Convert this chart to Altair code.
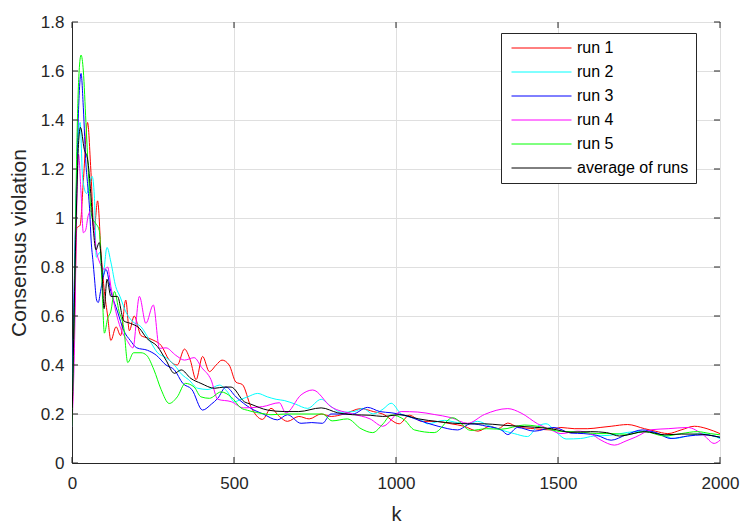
import altair as alt
import pandas as pd

FONT = "Liberation Sans"
AX = "#262626"

series_names = ["run 1", "run 2", "run 3", "run 4", "run 5", "average of runs"]
series_colors = ["#ff0000", "#00ffff", "#0000ff", "#ff00ff", "#00ff00", "#000000"]
x_ticks = [0, 500, 1000, 1500, 2000]
y_ticks = [0, 0.2, 0.4, 0.6, 0.8, 1.0, 1.2, 1.4, 1.6, 1.8]

run1 = [(0,0.15),(8,0.6),(15,0.96),(25,0.97),(35,1.15),(48,1.39),(58,1.2),(68,0.95),(79,1.07),(90,0.85),
        (100,0.70),(110,0.60),(120,0.50),(136,0.556),(150,0.52),(166,0.665),(177,0.54),(192,0.60),(213,0.52),
        (235,0.51),(253,0.50),(275,0.48),(300,0.42),(325,0.40),(347,0.465),(365,0.42),(383,0.34),(403,0.435),
        (424,0.373),(445,0.40),(463,0.42),(485,0.40),(506,0.33),(526,0.32),(552,0.23),(588,0.178),(614,0.223),
        (640,0.19),(665,0.17),(700,0.19),(732,0.18),(769,0.20),(800,0.19),(840,0.20),(892,0.222),(930,0.21),
        (959,0.20),(1010,0.16),(1041,0.195),(1080,0.17),(1120,0.17),(1170,0.16),(1210,0.15),(1253,0.13),
        (1290,0.15),(1315,0.14),(1345,0.163),(1375,0.147),(1427,0.14),(1478,0.135),(1509,0.145),(1550,0.14),
        (1592,0.14),(1630,0.145),(1664,0.15),(1715,0.157),(1767,0.14),(1800,0.13),(1839,0.12),(1880,0.135),
        (1921,0.15),(1960,0.14),(2000,0.12)]

run2 = [(0,0.15),(10,0.9),(18,1.3),(25,1.39),(33,1.16),(45,1.1),(62,1.17),(69,1.09),(75,0.84),(86,0.86),
        (95,0.76),(108,0.88),(120,0.82),(135,0.72),(148,0.68),(165,0.62),(185,0.58),(213,0.556),(240,0.50),
        (264,0.45),(290,0.43),(316,0.40),(340,0.36),(360,0.34),(388,0.305),(420,0.30),(455,0.318),(480,0.29),
        (501,0.25),(522,0.26),(542,0.27),(573,0.284),(603,0.27),(630,0.26),(655,0.255),(690,0.24),(727,0.223),
        (769,0.26),(800,0.23),(830,0.207),(870,0.21),(898,0.223),(929,0.20),(960,0.22),(985,0.244),(1016,0.20),
        (1050,0.185),(1077,0.176),(1097,0.16),(1149,0.174),(1190,0.165),(1221,0.16),(1252,0.17),(1290,0.15),
        (1324,0.135),(1365,0.12),(1406,0.108),(1437,0.15),(1463,0.16),(1499,0.12),(1525,0.098),(1570,0.10),
        (1610,0.11),(1660,0.113),(1715,0.125),(1767,0.13),(1810,0.12),(1859,0.10),(1900,0.11),(1940,0.12),
        (1980,0.11),(2000,0.10)]

run3 = [(0,0.15),(8,0.8),(15,1.2),(22,1.5),(28,1.59),(35,1.45),(43,1.22),(48,1.14),(55,1.02),(59,0.91),
        (65,0.82),(69,0.76),(76,0.665),(81,0.655),(88,0.70),(95,0.75),(105,0.79),(120,0.70),(140,0.62),
        (160,0.54),(180,0.50),(200,0.47),(233,0.46),(260,0.44),(290,0.40),(316,0.38),(342,0.325),(370,0.30),
        (403,0.216),(430,0.24),(450,0.264),(475,0.31),(506,0.27),(552,0.223),(590,0.20),(634,0.176),(665,0.197),
        (707,0.162),(740,0.165),(773,0.162),(799,0.20),(866,0.20),(912,0.227),(950,0.21),(985,0.205),
        (1026,0.195),(1080,0.17),(1130,0.15),(1190,0.135),(1231,0.16),(1280,0.15),(1325,0.135),(1345,0.116),
        (1375,0.145),(1427,0.13),(1488,0.145),(1540,0.122),(1580,0.12),(1620,0.113),(1664,0.093),(1710,0.115),
        (1760,0.135),(1800,0.125),(1849,0.10),(1900,0.11),(1950,0.115),(2000,0.105)]

run4 = [(0,0.15),(8,0.5),(14,1.0),(20,1.26),(28,1.1),(35,0.94),(42,0.95),(50,1.01),(59,1.03),(68,0.95),
        (75,0.87),(85,0.82),(92,0.80),(100,0.79),(110,0.80),(120,0.72),(135,0.62),(150,0.55),(170,0.50),
        (188,0.47),(208,0.68),(228,0.57),(251,0.645),(270,0.468),(290,0.47),(320,0.44),(347,0.42),(377,0.43),
        (400,0.39),(429,0.34),(450,0.26),(492,0.25),(529,0.225),(588,0.23),(640,0.246),(660,0.204),(707,0.278),
        (743,0.298),(799,0.23),(866,0.20),(920,0.18),(959,0.15),(1016,0.21),(1067,0.208),(1118,0.198),
        (1170,0.185),(1221,0.162),(1273,0.198),(1345,0.222),(1386,0.204),(1437,0.16),(1478,0.135),(1509,0.12),
        (1560,0.13),(1600,0.12),(1633,0.093),(1674,0.073),(1710,0.09),(1740,0.106),(1790,0.136),(1840,0.14),
        (1900,0.145),(1950,0.113),(1982,0.08),(2000,0.093)]

run5 = [(0,0.15),(8,0.7),(15,1.3),(22,1.6),(28,1.665),(35,1.6),(43,1.39),(53,1.13),(62,1.0),(72,0.98),
        (84,0.95),(92,0.75),(100,0.53),(110,0.59),(120,0.62),(131,0.70),(145,0.62),(160,0.55),(172,0.41),
        (190,0.45),(213,0.45),(230,0.44),(253,0.38),(275,0.30),(300,0.243),(325,0.27),(350,0.325),(377,0.31),
        (398,0.27),(424,0.264),(460,0.29),(491,0.27),(522,0.224),(542,0.215),(597,0.20),(614,0.197),(660,0.20),
        (707,0.20),(773,0.20),(803,0.172),(850,0.18),(892,0.14),(928,0.124),(960,0.16),(985,0.196),(1026,0.176),
        (1057,0.135),(1118,0.124),(1175,0.185),(1231,0.133),(1280,0.14),(1325,0.138),(1396,0.155),(1437,0.15),
        (1500,0.13),(1540,0.128),(1580,0.125),(1620,0.12),(1664,0.12),(1715,0.117),(1767,0.128),(1830,0.11),
        (1880,0.12),(1930,0.128),(1970,0.12),(2000,0.115)]

average = [(0,0.15),(8,0.7),(15,1.1),(20,1.3),(26,1.37),(38,1.28),(48,1.24),(58,1.1),(66,0.95),(74,0.87),
           (84,0.90),(92,0.80),(99,0.63),(108,0.75),(120,0.68),(140,0.68),(160,0.58),(180,0.57),(208,0.55),
           (230,0.51),(264,0.475),(290,0.42),(316,0.366),(337,0.38),(367,0.345),(398,0.325),(440,0.305),
           (470,0.31),(491,0.31),(532,0.25),(552,0.24),(604,0.216),(655,0.21),(700,0.21),(769,0.225),(820,0.205),
           (866,0.197),(920,0.195),(959,0.19),(1010,0.197),(1070,0.18),(1129,0.169),(1221,0.16),(1273,0.16),
           (1324,0.155),(1380,0.15),(1427,0.146),(1480,0.14),(1540,0.125),(1600,0.128),(1650,0.124),(1690,0.11),
           (1767,0.128),(1830,0.115),(1880,0.118),(1930,0.118),(2000,0.105)]

series_data = [run1, run2, run3, run4, run5, average]

W, H = 648, 441

xscale = alt.Scale(domain=[0, 2000], nice=False, zero=False)
yscale = alt.Scale(domain=[0, 1.8], nice=False)
cscale = alt.Scale(domain=series_names, range=series_colors)

xaxis = alt.Axis(values=x_ticks, format="d", grid=True, gridColor="#dfdfdf", ticks=False,
                 domainColor=AX, labelFont=FONT, labelFontSize=17, labelColor=AX, labelPadding=12,
                 labelFlush=False, labelOverlap=False,
                 title="k", titleFont=FONT, titleFontSize=20, titleFontWeight="normal", titleColor=AX,
                 titleY=57, titleBaseline="alphabetic")
yaxis = alt.Axis(values=y_ticks, format="~g", grid=True, gridColor="#dfdfdf", ticks=False,
                 domainColor=AX, labelFont=FONT, labelFontSize=17, labelColor=AX, labelPadding=8,
                 labelFlush=False, labelOverlap=False,
                 title="Consensus violation", titleFont=FONT, titleFontSize=21, titleFontWeight="normal",
                 titleColor=AX, titleX=-53, titleY=H / 2, titleAngle=270, titleAlign="center",
                 titleBaseline="middle")
legend = alt.Legend(title=None, orient="none", legendX=429, legendY=11,
                    symbolType="M-0.9,0H11.1", symbolSize=100, symbolStrokeWidth=1,
                    labelFont=FONT, labelFontSize=16, labelColor="#000000", labelOffset=53,
                    padding=7, rowPadding=8, strokeColor=AX, fillColor="white", labelLimit=300)

layers = []
for name, pts in zip(series_names, series_data):
    df = pd.DataFrame(pts, columns=["k", "v"])
    df["series"] = name
    layers.append(
        alt.Chart(df).mark_line(strokeWidth=1, interpolate="monotone", clip=True).encode(
            x=alt.X("k:Q", scale=xscale, axis=xaxis),
            y=alt.Y("v:Q", scale=yscale, axis=yaxis),
            color=alt.Color("series:N", scale=cscale, legend=legend),
        )
    )

xt = pd.DataFrame({"k": x_ticks})
yt = pd.DataFrame({"v": y_ticks})
tick_bottom = alt.Chart(xt).mark_rule(color=AX, strokeWidth=1).encode(
    x=alt.X("k:Q", scale=xscale, axis=xaxis), y=alt.value(H), y2=alt.value(H - 6))
tick_top = alt.Chart(xt).mark_rule(color=AX, strokeWidth=1).encode(
    x=alt.X("k:Q", scale=xscale, axis=xaxis), y=alt.value(0), y2=alt.value(6))
tick_left = alt.Chart(yt).mark_rule(color=AX, strokeWidth=1).encode(
    y=alt.Y("v:Q", scale=yscale, axis=yaxis), x=alt.value(0), x2=alt.value(6))
tick_right = alt.Chart(yt).mark_rule(color=AX, strokeWidth=1).encode(
    y=alt.Y("v:Q", scale=yscale, axis=yaxis), x=alt.value(W), x2=alt.value(W - 6))

chart = alt.layer(*layers, tick_bottom, tick_top, tick_left, tick_right).properties(
    width=W, height=H, padding={"left": 0, "top": 5, "right": 5, "bottom": 0},
    background="white"
).configure_view(stroke=AX, strokeWidth=1)

chart.save("out.html", embed_options={"renderer": "svg", "actions": False})
